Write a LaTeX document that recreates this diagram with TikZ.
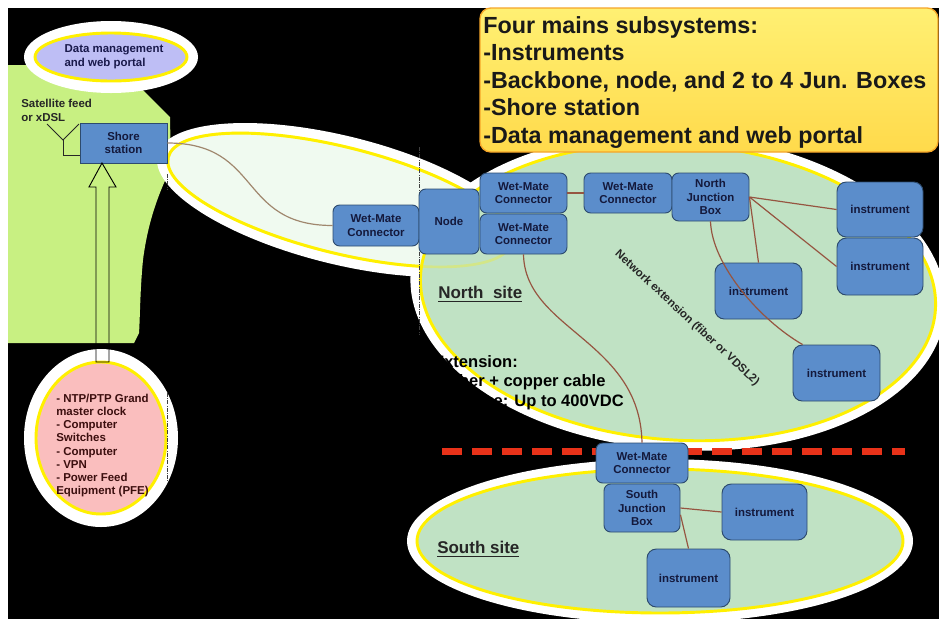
\documentclass[tikz,border=0pt]{standalone}
\usepackage{fontspec}
\setmainfont{Liberation Sans}
\usetikzlibrary{calc}
\definecolor{boxblue}{RGB}{91,141,203}
\definecolor{boxline}{RGB}{45,75,110}
\definecolor{boxtext}{RGB}{20,25,60}
\definecolor{land}{RGB}{200,240,130}
\definecolor{sitegreen}{RGB}{192,226,196}
\definecolor{palegreen}{RGB}{240,250,240}
\definecolor{lav}{RGB}{190,190,245}
\definecolor{pinkf}{RGB}{250,190,190}
\definecolor{ring}{RGB}{255,240,0}
\definecolor{cable}{RGB}{150,85,65}
\definecolor{tancable}{RGB}{160,135,110}
\definecolor{dashred}{RGB}{232,50,25}
\definecolor{topyellow}{RGB}{255,240,115}
\definecolor{botyellow}{RGB}{255,218,75}
\definecolor{navytext}{RGB}{25,25,75}
\definecolor{maroontext}{RGB}{60,15,15}
\begin{document}
\begin{tikzpicture}[x=0.75pt,y=-0.75pt,
  box/.style={draw=boxline, fill=boxblue, rounded corners=5pt, line width=0.7pt,
    font=\bfseries\fontsize{8.6}{10.2}\selectfont, text=boxtext, align=center, inner sep=0pt},
  sz/.style 2 args={minimum width=#1*0.75pt, minimum height=#2*0.75pt},
  ringline/.style={draw=ring, line width=2.2pt},
  cableline/.style={draw=cable, line width=0.9pt},
  smalltext/.style={font=\bfseries\fontsize{8.6}{10.2}\selectfont, inner sep=0pt, align=left},
  sitelabel/.style={font=\bfseries\fontsize{12.75}{15}\selectfont, inner sep=0pt, text=black!85},
  exttext/.style={font=\bfseries\fontsize{12.4}{14.6}\selectfont, inner sep=0pt, text=black, anchor=base west},
  dotline/.style={draw=black!75, line width=0.6pt, densely dashdotted}
]
\useasboundingbox (0,0) rectangle (939,619);
\fill[white] (0,0) rectangle (939,619);
\fill[black] (8,8) rectangle (939,619);

% land
\fill[land] (8,65) -- (118,65) -- (170,117) -- (171,168)
  .. controls (160,190) and (148,220) .. (143,260)
  .. controls (140,290) and (140,320) .. (139,333) -- (134,343) -- (8,343) -- cycle;

% data management ellipse
\fill[white] (111,57) ellipse [x radius=87, y radius=36];
\filldraw[fill=lav, ringline] (111,57) ellipse [x radius=76, y radius=24];

% north site halo
\fill[white, rotate around={-4:(678,292)}] (678,292) ellipse [x radius=268, y radius=158];
% backbone ellipse
\fill[white, rotate around={-14:(340,200)}] (340,200) ellipse [x radius=188, y radius=64];
\filldraw[fill=palegreen, ringline, rotate around={-14:(340,200)}] (340,200) ellipse [x radius=177, y radius=53];
% north site ellipse
\filldraw[fill=sitegreen, ringline, rotate around={-4:(678,292)}] (678,292) ellipse [x radius=258, y radius=148];
\draw[ring, opacity=0.3, line width=2pt, rotate around={-14:(340,200)}] (340,200) ellipse [x radius=177, y radius=53];

% south site ellipse
\fill[white] (660,541) ellipse [x radius=253, y radius=82];
\filldraw[fill=sitegreen, ringline] (660,541) ellipse [x radius=243, y radius=72];

% PFE ellipse
\fill[white] (101,438) ellipse [x radius=77, y radius=89];
\filldraw[fill=pinkf, ringline] (101,438) ellipse [x radius=65, y radius=76];

% dotted vertical lines
\draw[dotline] (419,147) -- (419,335);
\draw[dotline] (167,393) -- (167,483);
\draw[dotline] (167,174) -- (167,190);

% top info box
\shade[top color=topyellow, bottom color=botyellow, rounded corners=8pt] (480,8) rectangle (938,152);
\draw[draw={rgb,255:red,245;green,165;blue,40}, line width=1pt, rounded corners=8pt] (480,8) rectangle (938,152);
\node[anchor=north west, inner sep=0pt, align=left, text=black!90,
  font=\bfseries\fontsize{17.5}{20.6}\selectfont] (info) at (483,16)
  {Four mains subsystems:\\-Instruments\\-Backbone, node, and 2 to 4 Jun. Boxes\\-Shore station\\-Data management and web portal};

% texts
\node[smalltext, text=navytext] (dm) at (114,57) {Data management\\and web portal};
\node[smalltext, text=black!85, anchor=north west] (sat) at (21,99) {Satellite feed\\or xDSL};
\node[smalltext, text=maroontext, anchor=north west, font=\bfseries\fontsize{8.6}{9.85}\selectfont] (pfe) at (56,394)
  {- NTP/PTP Grand\\master clock\\- Computer\\Switches\\- Computer\\- VPN\\- Power Feed\\Equipment (PFE)};

% shore station
\node[box, rounded corners=0pt, sz={87}{40}] (shore) at (123.5,143) {Shore\\station};

% antenna
\coordinate (antA) at (47,124);
\coordinate (antB) at (79,124);
\coordinate (antC) at (63,140);
\coordinate (antD) at (63,155);
\draw[black!85, line width=0.7pt] (antA) -- (antC) -- (antB);
\draw[black!85, line width=0.7pt] (antC) -- (antD) -- (antD -| shore.west);

% hollow arrow
\coordinate (arrbase) at (102,362);
\draw[black, line width=0.7pt] (96,362) -- (96,187) -- (89,187) -- (102,163) -- (116,187) -- (109,187) -- (109,362) -- cycle;

% red dashed boundary
\draw[dashred, line width=5.25pt, dash pattern=on 15pt off 7.5pt] (442,451) -- (905,451);

% boxes
\node[box, sz={86}{41}] (wmcL) at (376,225.5) {Wet-Mate\\Connector};
\node[box, sz={60}{65}] (node) at (449,221.5) {Node};
\node[box, sz={87}{40}] (wmcT) at (523.5,193) {Wet-Mate\\Connector};
\node[box, sz={87}{40}] (wmcB) at (523.5,234) {Wet-Mate\\Connector};
\node[box, sz={88}{40}] (wmcR) at (628,193) {Wet-Mate\\Connector};
\node[box, sz={77}{48}] (njb) at (710.5,197) {North\\Junction\\Box};
\node[box, sz={86}{55}, rounded corners=7pt] (i1) at (880,209.5) {instrument};
\node[box, sz={86}{57}, rounded corners=7pt] (i2) at (880,266.5) {instrument};
\node[box, sz={87}{56}, rounded corners=7pt] (i3) at (758.5,291) {instrument};
\node[box, sz={87}{56}, rounded corners=7pt] (i4) at (836.5,373) {instrument};
\node[box, sz={92}{40}] (wmcS) at (642,463) {Wet-Mate\\Connector};
\node[box, sz={76}{48}] (sjb) at (642,508) {South\\Junction\\Box};
\node[box, sz={85}{56}, rounded corners=7pt] (i5) at (764.5,512) {instrument};
\node[box, sz={83}{58}, rounded corners=7pt] (i6) at (688.5,578) {instrument};

% cables
\draw[draw=tancable, line width=0.9pt] (shore.east) .. controls +(95,0) and +(-95,0) .. (wmcL.west);
\draw[cableline] (wmcT.east) -- (wmcR.west);
\draw[cableline] (njb.east) -- (i1.west);
\draw[cableline] (njb.east) -- (i2.west);
\draw[cableline] (njb.east) -- (i3.north);
\draw[cableline] (njb.south) .. controls (712,265) and (760,320) .. (i4.140);
\draw[cableline] (wmcB.south) .. controls (525,330) and (640,340) .. (wmcS.north);
\draw[cableline] (sjb.east) -- (i5.west);
\draw[cableline] (sjb.-10) -- (i6.north);

% site labels
\node[sitelabel, anchor=west] (north) at (438,294) {\underline{North~~site}};
\node[sitelabel, anchor=west] (south) at (437,549) {\underline{South site}};

% extension text (partly hidden on black)
\node[exttext] (ext1) at (433,367) {Extension:};
\node[exttext] (ext2) at (444,386) {Fiber + copper cable};
\node[exttext] (ext3) at (444,406) {Voltage: Up to 400VDC};

% network extension label
\node[smalltext, text=black!85, rotate=-43] (netext) at (687,318) {Network extension (fiber or VDSL2)};
\end{tikzpicture}
\end{document}
